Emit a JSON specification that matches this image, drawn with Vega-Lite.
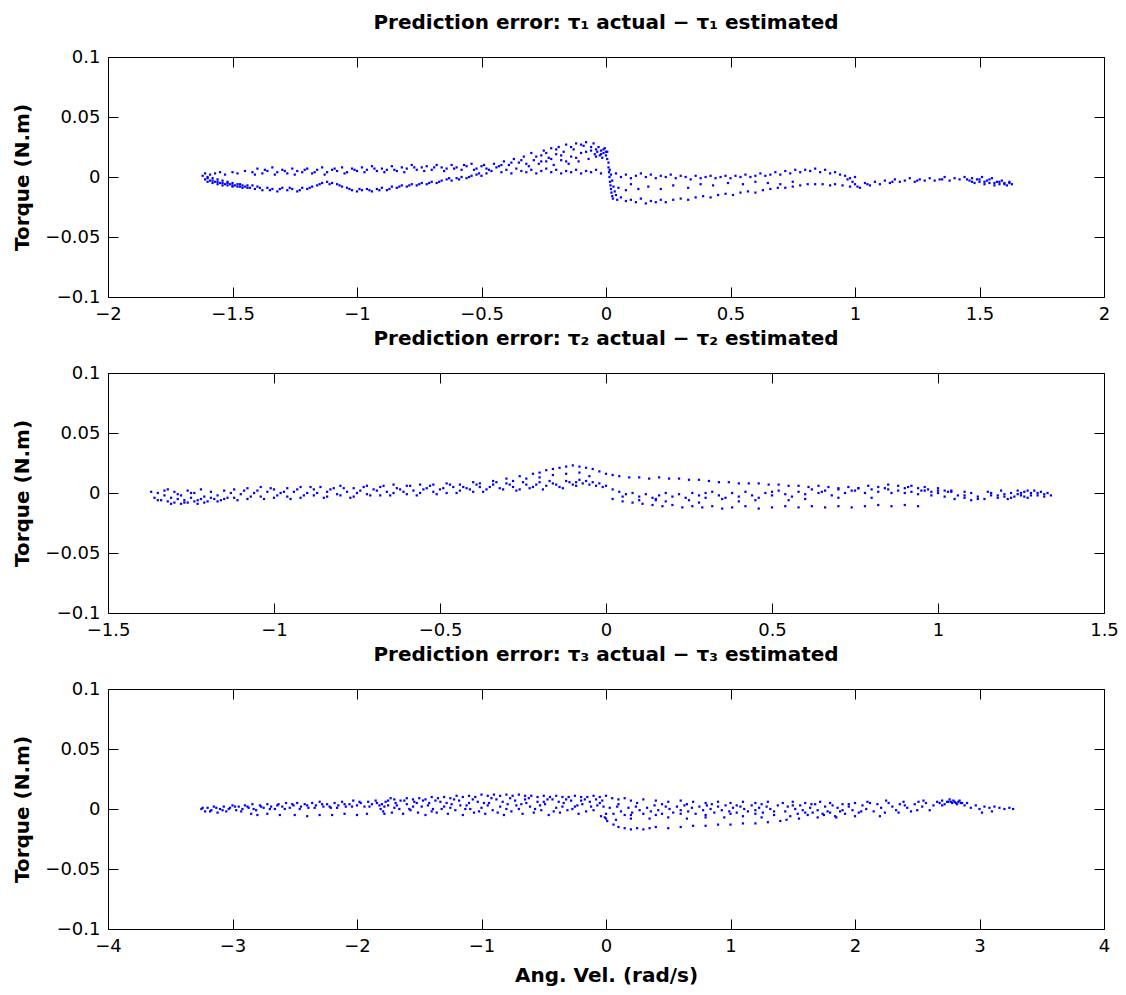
{
"$schema": "https://vega.github.io/schema/vega-lite/v6.json",
"background": "white",
"padding": {"left": 12, "top": 12, "right": 1, "bottom": 0},
"spacing": 4,
"datasets": {
"j1": [
{"v":-1.62,"e":0.001},{"v":-1.61,"e":-0.002},{"v":-1.61,"e":0.003},{"v":-1.6,"e":-0.004},{"v":-1.6,"e":0.0},{"v":-1.59,"e":-0.003},{"v":-1.59,"e":0.002},{"v":-1.58,"e":-0.005},{"v":-1.58,"e":-0.001},{"v":-1.57,"e":-0.004},{"v":-1.57,"e":0.003},{"v":-1.56,"e":-0.006},{"v":-1.56,"e":-0.002},{"v":-1.55,"e":-0.005},{"v":-1.55,"e":0.004},{"v":-1.54,"e":-0.003},{"v":-1.54,"e":-0.007},{"v":-1.53,"e":-0.006},{"v":-1.53,"e":0.002},{"v":-1.52,"e":-0.004},{"v":-1.52,"e":-0.007},{"v":-1.51,"e":-0.006},{"v":-1.5,"e":-0.008},{"v":-1.5,"e":0.004},{"v":-1.5,"e":-0.005},{"v":-1.49,"e":-0.007},{"v":-1.48,"e":-0.008},{"v":-1.48,"e":0.003},{"v":-1.47,"e":-0.006},{"v":-1.46,"e":-0.009},{"v":-1.45,"e":-0.008},{"v":-1.45,"e":0.005},{"v":-1.44,"e":-0.007},
{"v":-1.6,"e":-0.001},{"v":-1.58,"e":-0.003},{"v":-1.56,"e":-0.004},{"v":-1.54,"e":-0.005},{"v":-1.52,"e":-0.005},{"v":-1.5,"e":-0.007},{"v":-1.48,"e":-0.006},{"v":-1.47,"e":-0.008},{"v":-1.46,"e":-0.007},{"v":-1.44,"e":-0.009},
{"v":-1.42,"e":0.004},{"v":-1.4,"e":0.007},{"v":-1.38,"e":0.003},{"v":-1.36,"e":0.005},{"v":-1.34,"e":0.008},{"v":-1.32,"e":0.004},{"v":-1.3,"e":0.006},{"v":-1.28,"e":0.003},{"v":-1.26,"e":0.007},{"v":-1.24,"e":0.005},{"v":-1.22,"e":0.004},{"v":-1.2,"e":0.007},{"v":-1.18,"e":0.003},{"v":-1.16,"e":0.006},{"v":-1.14,"e":0.008},{"v":-1.12,"e":0.004},{"v":-1.1,"e":0.006},{"v":-1.08,"e":0.005},{"v":-1.06,"e":0.008},{"v":-1.04,"e":0.004},{"v":-1.02,"e":0.007},{"v":-1.0,"e":0.005},{"v":-0.98,"e":0.008},{"v":-0.96,"e":0.006},{"v":-0.94,"e":0.009},{"v":-0.92,"e":0.005},{"v":-0.9,"e":0.007},{"v":-0.88,"e":0.006},{"v":-0.86,"e":0.009},{"v":-0.84,"e":0.005},{"v":-0.82,"e":0.008},{"v":-0.8,"e":0.007},{"v":-0.78,"e":0.01},{"v":-0.76,"e":0.006},{"v":-0.74,"e":0.008},{"v":-0.72,"e":0.009},{"v":-0.7,"e":0.006},{"v":-0.68,"e":0.01},{"v":-0.66,"e":0.008},{"v":-0.64,"e":0.007},{"v":-0.62,"e":0.01},{"v":-0.6,"e":0.008},{"v":-0.58,"e":0.006},{"v":-0.56,"e":0.009},{"v":-0.54,"e":0.011},{"v":-0.52,"e":0.007},{"v":-0.5,"e":0.009},
{"v":-1.41,"e":0.002},{"v":-1.37,"e":0.006},{"v":-1.33,"e":0.002},{"v":-1.29,"e":0.005},{"v":-1.25,"e":0.002},{"v":-1.21,"e":0.006},{"v":-1.17,"e":0.004},{"v":-1.13,"e":0.002},{"v":-1.09,"e":0.007},{"v":-1.05,"e":0.003},{"v":-1.01,"e":0.006},{"v":-0.97,"e":0.004},{"v":-0.93,"e":0.007},{"v":-0.89,"e":0.004},{"v":-0.85,"e":0.006},{"v":-0.81,"e":0.004},{"v":-0.77,"e":0.008},{"v":-0.73,"e":0.005},{"v":-0.69,"e":0.008},{"v":-0.65,"e":0.005},{"v":-0.61,"e":0.007},{"v":-0.57,"e":0.01},{"v":-0.53,"e":0.006},{"v":-0.49,"e":0.01},{"v":-0.47,"e":0.006},
{"v":-1.43,"e":-0.009},{"v":-1.41,"e":-0.01},{"v":-1.4,"e":-0.008},{"v":-1.38,"e":-0.011},{"v":-1.36,"e":-0.009},{"v":-1.34,"e":-0.01},{"v":-1.32,"e":-0.012},{"v":-1.3,"e":-0.009},{"v":-1.28,"e":-0.011},{"v":-1.26,"e":-0.01},{"v":-1.24,"e":-0.012},{"v":-1.22,"e":-0.009},{"v":-1.2,"e":-0.01},{"v":-1.18,"e":-0.008},{"v":-1.16,"e":-0.007},{"v":-1.14,"e":-0.005},{"v":-1.12,"e":-0.004},{"v":-1.1,"e":-0.005},{"v":-1.08,"e":-0.006},{"v":-1.06,"e":-0.008},{"v":-1.04,"e":-0.009},{"v":-1.02,"e":-0.011},{"v":-1.0,"e":-0.012},{"v":-0.98,"e":-0.011},{"v":-0.96,"e":-0.01},{"v":-0.94,"e":-0.012},{"v":-0.92,"e":-0.01},{"v":-0.9,"e":-0.009},{"v":-0.88,"e":-0.011},{"v":-0.86,"e":-0.008},{"v":-0.84,"e":-0.009},{"v":-0.82,"e":-0.007},{"v":-0.8,"e":-0.008},{"v":-0.78,"e":-0.006},{"v":-0.76,"e":-0.007},{"v":-0.74,"e":-0.005},{"v":-0.72,"e":-0.006},{"v":-0.7,"e":-0.004},{"v":-0.68,"e":-0.005},{"v":-0.66,"e":-0.003},{"v":-0.64,"e":-0.002},{"v":-0.62,"e":-0.003},{"v":-0.6,"e":-0.001},{"v":-0.58,"e":0.0},{"v":-0.56,"e":-0.001},{"v":-0.54,"e":0.001},{"v":-0.52,"e":0.002},{"v":-0.5,"e":0.001},{"v":-0.48,"e":0.003},
{"v":-1.42,"e":-0.007},{"v":-1.39,"e":-0.009},{"v":-1.35,"e":-0.011},{"v":-1.31,"e":-0.01},{"v":-1.27,"e":-0.009},{"v":-1.23,"e":-0.011},{"v":-1.19,"e":-0.009},{"v":-1.15,"e":-0.006},{"v":-1.11,"e":-0.006},{"v":-1.07,"e":-0.007},{"v":-1.03,"e":-0.01},{"v":-0.99,"e":-0.01},{"v":-0.95,"e":-0.011},{"v":-0.91,"e":-0.011},{"v":-0.87,"e":-0.01},{"v":-0.83,"e":-0.008},{"v":-0.79,"e":-0.007},{"v":-0.75,"e":-0.006},{"v":-0.71,"e":-0.005},{"v":-0.67,"e":-0.004},{"v":-0.63,"e":-0.001},{"v":-0.59,"e":-0.002},{"v":-0.55,"e":0.0},{"v":-0.51,"e":0.003},
{"v":-0.48,"e":0.007},{"v":-0.46,"e":0.005},{"v":-0.44,"e":0.008},{"v":-0.42,"e":0.004},{"v":-0.4,"e":0.006},{"v":-0.38,"e":0.003},{"v":-0.36,"e":0.007},{"v":-0.34,"e":0.005},{"v":-0.32,"e":0.004},{"v":-0.3,"e":0.006},{"v":-0.28,"e":0.003},{"v":-0.26,"e":0.005},{"v":-0.24,"e":0.007},{"v":-0.22,"e":0.004},{"v":-0.2,"e":0.006},{"v":-0.18,"e":0.003},{"v":-0.16,"e":0.005},{"v":-0.14,"e":0.004},{"v":-0.12,"e":0.006},{"v":-0.1,"e":0.003},{"v":-0.08,"e":0.005},{"v":-0.06,"e":0.004},{"v":-0.04,"e":0.006},{"v":-0.02,"e":0.003},
{"v":-0.45,"e":0.011},{"v":-0.43,"e":0.009},{"v":-0.41,"e":0.013},{"v":-0.39,"e":0.01},{"v":-0.37,"e":0.015},{"v":-0.35,"e":0.012},{"v":-0.33,"e":0.017},{"v":-0.31,"e":0.009},{"v":-0.3,"e":0.02},{"v":-0.29,"e":0.014},{"v":-0.27,"e":0.011},{"v":-0.26,"e":0.018},{"v":-0.25,"e":0.022},{"v":-0.24,"e":0.013},{"v":-0.23,"e":0.016},{"v":-0.22,"e":0.024},{"v":-0.21,"e":0.01},{"v":-0.2,"e":0.019},{"v":-0.19,"e":0.025},{"v":-0.18,"e":0.014},{"v":-0.17,"e":0.021},{"v":-0.16,"e":0.027},{"v":-0.15,"e":0.011},{"v":-0.14,"e":0.017},{"v":-0.13,"e":0.023},{"v":-0.12,"e":0.028},{"v":-0.11,"e":0.013},{"v":-0.1,"e":0.02},{"v":-0.09,"e":0.026},{"v":-0.08,"e":0.029},{"v":-0.07,"e":0.015},{"v":-0.06,"e":0.022},{"v":-0.05,"e":0.028},{"v":-0.045,"e":0.019},{"v":-0.04,"e":0.017},{"v":-0.035,"e":0.021},{"v":-0.03,"e":0.025},{"v":-0.025,"e":0.018},{"v":-0.02,"e":0.022},{"v":-0.015,"e":0.016},{"v":-0.01,"e":0.02},{"v":-0.005,"e":0.024},{"v":0.0,"e":0.018},{"v":0.005,"e":0.021},{"v":0.005,"e":0.015},{"v":0.01,"e":0.012},
{"v":-0.42,"e":0.01},{"v":-0.38,"e":0.012},{"v":-0.34,"e":0.014},{"v":-0.32,"e":0.011},{"v":-0.28,"e":0.017},{"v":-0.26,"e":0.013},{"v":-0.24,"e":0.02},{"v":-0.22,"e":0.015},{"v":-0.2,"e":0.023},{"v":-0.18,"e":0.018},{"v":-0.16,"e":0.013},{"v":-0.14,"e":0.025},{"v":-0.12,"e":0.016},{"v":-0.1,"e":0.027},{"v":-0.08,"e":0.021},{"v":-0.06,"e":0.025},{"v":-0.04,"e":0.023},{"v":-0.02,"e":0.019},{"v":-0.01,"e":0.023},{"v":0.0,"e":0.021},
{"v":0.01,"e":0.008},{"v":0.012,"e":0.004},{"v":0.014,"e":0.0},{"v":0.016,"e":-0.004},{"v":0.018,"e":-0.007},{"v":0.02,"e":-0.01},{"v":0.022,"e":-0.013},{"v":0.025,"e":-0.016},{"v":0.028,"e":-0.018},{"v":0.015,"e":0.006},{"v":0.02,"e":0.002},{"v":0.025,"e":-0.003},{"v":0.03,"e":-0.008},{"v":0.035,"e":-0.012},{"v":0.04,"e":-0.015},{"v":0.045,"e":-0.019},
{"v":0.06,"e":-0.017},{"v":0.08,"e":-0.02},{"v":0.1,"e":-0.019},{"v":0.12,"e":-0.021},{"v":0.14,"e":-0.018},{"v":0.16,"e":-0.022},{"v":0.18,"e":-0.02},{"v":0.2,"e":-0.021},{"v":0.22,"e":-0.019},{"v":0.24,"e":-0.021},{"v":0.27,"e":-0.019},{"v":0.3,"e":-0.018},{"v":0.33,"e":-0.019},{"v":0.36,"e":-0.017},{"v":0.39,"e":-0.016},{"v":0.42,"e":-0.017},{"v":0.45,"e":-0.015},{"v":0.48,"e":-0.014},{"v":0.51,"e":-0.015},{"v":0.54,"e":-0.013},{"v":0.57,"e":-0.012},{"v":0.6,"e":-0.013},{"v":0.63,"e":-0.011},{"v":0.66,"e":-0.01},{"v":0.69,"e":-0.009},{"v":0.72,"e":-0.009},{"v":0.75,"e":-0.008},{"v":0.78,"e":-0.007},{"v":0.81,"e":-0.006},{"v":0.84,"e":-0.006},{"v":0.87,"e":-0.006},{"v":0.9,"e":-0.007},
{"v":0.05,"e":-0.009},{"v":0.08,"e":-0.011},{"v":0.1,"e":-0.006},{"v":0.13,"e":-0.01},{"v":0.17,"e":-0.008},{"v":0.22,"e":-0.01},{"v":0.27,"e":-0.007},{"v":0.33,"e":-0.009},{"v":0.38,"e":-0.006},{"v":0.43,"e":-0.007},{"v":0.49,"e":-0.005},{"v":0.55,"e":-0.006},{"v":0.6,"e":-0.004},{"v":0.65,"e":-0.005},{"v":0.7,"e":-0.006},{"v":0.75,"e":-0.004},
{"v":0.04,"e":0.003},{"v":0.06,"e":0.0},{"v":0.08,"e":0.002},{"v":0.1,"e":-0.001},{"v":0.12,"e":0.001},{"v":0.14,"e":0.003},{"v":0.16,"e":0.0},{"v":0.18,"e":0.002},{"v":0.2,"e":-0.001},{"v":0.22,"e":0.001},{"v":0.24,"e":0.0},{"v":0.26,"e":0.002},{"v":0.28,"e":-0.001},{"v":0.3,"e":0.001},{"v":0.32,"e":0.0},{"v":0.34,"e":-0.002},{"v":0.36,"e":0.001},{"v":0.38,"e":-0.001},{"v":0.4,"e":0.0},{"v":0.42,"e":0.001},{"v":0.44,"e":-0.001},{"v":0.46,"e":0.0},{"v":0.48,"e":0.001},{"v":0.5,"e":-0.001},{"v":0.52,"e":0.001},{"v":0.54,"e":0.0},{"v":0.56,"e":0.002},{"v":0.58,"e":0.0},{"v":0.6,"e":0.001},{"v":0.62,"e":0.003},{"v":0.64,"e":0.001},{"v":0.66,"e":0.002},{"v":0.68,"e":0.004},{"v":0.7,"e":0.002},{"v":0.72,"e":0.005},{"v":0.74,"e":0.003},{"v":0.76,"e":0.006},{"v":0.78,"e":0.004},{"v":0.8,"e":0.006},{"v":0.82,"e":0.005},{"v":0.84,"e":0.007},{"v":0.86,"e":0.004},{"v":0.88,"e":0.006},{"v":0.9,"e":0.003},{"v":0.92,"e":0.004},{"v":0.94,"e":0.002},{"v":0.96,"e":0.001},{"v":0.98,"e":-0.001},{"v":1.0,"e":0.0},
{"v":0.92,"e":-0.006},{"v":0.95,"e":-0.007},{"v":0.98,"e":-0.008},{"v":1.0,"e":-0.006},{"v":1.02,"e":-0.009},{"v":1.04,"e":-0.005},{"v":1.06,"e":-0.007},{"v":1.08,"e":-0.004},{"v":1.1,"e":-0.006},{"v":1.12,"e":-0.003},{"v":1.14,"e":-0.005},{"v":1.16,"e":-0.002},{"v":1.18,"e":-0.004},{"v":1.2,"e":-0.003},{"v":1.22,"e":-0.001},{"v":1.24,"e":-0.004},{"v":1.26,"e":-0.002},{"v":1.28,"e":-0.003},{"v":1.3,"e":-0.001},{"v":1.32,"e":-0.003},{"v":1.34,"e":-0.002},{"v":1.36,"e":0.0},{"v":1.38,"e":-0.003},{"v":1.4,"e":-0.001},{"v":1.42,"e":-0.002},{"v":1.44,"e":0.0},{"v":1.46,"e":-0.003},{"v":1.47,"e":-0.001},{"v":1.48,"e":-0.005},{"v":1.49,"e":-0.002},{"v":1.5,"e":-0.004},{"v":1.51,"e":0.0},{"v":1.52,"e":-0.006},{"v":1.53,"e":-0.003},{"v":1.54,"e":-0.005},{"v":1.55,"e":-0.001},{"v":1.56,"e":-0.007},{"v":1.57,"e":-0.004},{"v":1.58,"e":-0.006},{"v":1.59,"e":-0.003},{"v":1.6,"e":-0.005},{"v":1.61,"e":-0.007},{"v":1.62,"e":-0.004},{"v":1.63,"e":-0.006},
{"v":1.45,"e":-0.002},{"v":1.47,"e":-0.004},{"v":1.5,"e":-0.002},{"v":1.52,"e":-0.004},{"v":1.54,"e":-0.002},{"v":1.56,"e":-0.005},{"v":1.58,"e":-0.004},{"v":1.6,"e":-0.006},{"v":1.62,"e":-0.005},{"v":1.35,"e":-0.002},{"v":1.25,"e":-0.003},{"v":1.15,"e":-0.004},{"v":1.05,"e":-0.006},{"v":1.01,"e":-0.008},{"v":0.99,"e":-0.004},{"v":0.97,"e":-0.002}
],
"j2": [
{"v":-1.37,"e":0.001},{"v":-1.36,"e":-0.004},{"v":-1.35,"e":0.0},{"v":-1.34,"e":-0.006},{"v":-1.33,"e":-0.002},{"v":-1.32,"e":0.003},{"v":-1.32,"e":-0.007},{"v":-1.31,"e":-0.004},{"v":-1.3,"e":-0.008},{"v":-1.3,"e":0.001},{"v":-1.29,"e":-0.005},{"v":-1.28,"e":-0.009},{"v":-1.28,"e":-0.002},{"v":-1.27,"e":-0.006},{"v":-1.26,"e":0.002},{"v":-1.26,"e":-0.008},{"v":-1.25,"e":-0.004},{"v":-1.24,"e":-0.007},{"v":-1.24,"e":0.0},{"v":-1.23,"e":-0.009},{"v":-1.22,"e":-0.005},{"v":-1.22,"e":0.003},{"v":-1.21,"e":-0.003},{"v":-1.2,"e":-0.007},{"v":-1.19,"e":0.001},{"v":-1.18,"e":-0.005},{"v":-1.17,"e":-0.002},{"v":-1.16,"e":-0.006},{"v":-1.15,"e":0.002},{"v":-1.14,"e":-0.004},
{"v":-1.35,"e":-0.006},{"v":-1.33,"e":0.002},{"v":-1.31,"e":-0.009},{"v":-1.29,"e":-0.001},{"v":-1.27,"e":-0.008},{"v":-1.25,"e":0.0},{"v":-1.23,"e":-0.006},{"v":-1.21,"e":-0.008},{"v":-1.19,"e":-0.004},{"v":-1.17,"e":-0.007},{"v":-1.15,"e":-0.005},{"v":-1.13,"e":0.0},{"v":-1.11,"e":-0.006},{"v":-1.09,"e":0.002},{"v":-1.07,"e":-0.003},{"v":-1.05,"e":0.002},{"v":-1.03,"e":-0.005},{"v":-1.01,"e":0.004},{"v":-0.99,"e":-0.002},{"v":-0.97,"e":0.001},{"v":-0.95,"e":-0.005},{"v":-0.93,"e":0.003},{"v":-0.91,"e":-0.002},{"v":-0.89,"e":0.005},{"v":-0.87,"e":0.0},{"v":-0.85,"e":-0.004},{"v":-0.83,"e":0.003},{"v":-0.81,"e":-0.001},{"v":-0.79,"e":0.004},{"v":-0.77,"e":-0.004},{"v":-0.75,"e":0.0},{"v":-0.73,"e":0.005},{"v":-0.71,"e":-0.002},{"v":-0.69,"e":0.002},{"v":-0.67,"e":0.006},{"v":-0.65,"e":-0.002},{"v":-0.63,"e":0.004},{"v":-0.61,"e":0.001},{"v":-0.59,"e":0.006},{"v":-0.57,"e":-0.002},{"v":-0.55,"e":0.003},{"v":-0.53,"e":0.006},{"v":-0.51,"e":-0.001},{"v":-0.49,"e":0.004},{"v":-0.47,"e":0.007},{"v":-0.45,"e":0.0},{"v":-0.43,"e":0.005},{"v":-0.41,"e":0.003},{"v":-0.39,"e":0.007},{"v":-0.37,"e":0.001},{"v":-0.35,"e":0.005},{"v":-0.33,"e":0.009},{"v":-0.31,"e":0.003},{"v":-0.29,"e":0.007},{"v":-0.27,"e":0.002},{"v":-0.25,"e":0.009},{"v":-0.23,"e":0.004},{"v":-0.21,"e":0.007},{"v":-0.19,"e":0.003},{"v":-0.17,"e":0.01},{"v":-0.15,"e":0.007},{"v":-0.13,"e":0.004},{"v":-0.11,"e":0.009},{"v":-0.09,"e":0.006},
{"v":-1.12,"e":0.003},{"v":-1.12,"e":-0.004},{"v":-1.1,"e":-0.001},{"v":-1.08,"e":0.004},{"v":-1.08,"e":-0.005},{"v":-1.06,"e":0.0},{"v":-1.04,"e":-0.003},{"v":-1.04,"e":0.005},{"v":-1.02,"e":0.001},{"v":-1.0,"e":-0.004},{"v":-1.0,"e":0.003},{"v":-0.98,"e":0.0},{"v":-0.96,"e":0.004},{"v":-0.96,"e":-0.003},{"v":-0.94,"e":0.001},{"v":-0.92,"e":-0.004},{"v":-0.92,"e":0.005},{"v":-0.9,"e":0.0},{"v":-0.88,"e":0.003},{"v":-0.88,"e":-0.002},{"v":-0.86,"e":0.005},{"v":-0.84,"e":-0.003},{"v":-0.84,"e":0.001},{"v":-0.82,"e":0.004},{"v":-0.8,"e":-0.002},{"v":-0.8,"e":0.006},{"v":-0.78,"e":0.001},{"v":-0.76,"e":-0.003},{"v":-0.76,"e":0.004},{"v":-0.74,"e":0.002},{"v":-0.72,"e":0.006},{"v":-0.72,"e":-0.001},{"v":-0.7,"e":0.003},{"v":-0.68,"e":-0.002},{"v":-0.68,"e":0.005},{"v":-0.66,"e":0.001},{"v":-0.64,"e":0.007},{"v":-0.64,"e":0.0},{"v":-0.62,"e":0.003},{"v":-0.6,"e":-0.001},{"v":-0.6,"e":0.006},{"v":-0.58,"e":0.002},{"v":-0.56,"e":0.007},{"v":-0.56,"e":0.0},{"v":-0.54,"e":0.004},{"v":-0.52,"e":0.001},{"v":-0.52,"e":0.007},{"v":-0.5,"e":0.003},{"v":-0.48,"e":0.008},{"v":-0.48,"e":0.0},{"v":-0.46,"e":0.005},{"v":-0.44,"e":0.002},{"v":-0.44,"e":0.007},{"v":-0.42,"e":0.004},{"v":-0.4,"e":0.009},{"v":-0.4,"e":0.001},
{"v":-0.38,"e":0.005},{"v":-0.36,"e":0.003},{"v":-0.34,"e":0.007},{"v":-0.32,"e":0.004},{"v":-0.3,"e":0.008},{"v":-0.28,"e":0.005},{"v":-0.26,"e":0.003},{"v":-0.24,"e":0.007},{"v":-0.22,"e":0.005},{"v":-0.2,"e":0.009},{"v":-0.18,"e":0.006},{"v":-0.16,"e":0.008},{"v":-0.14,"e":0.005},{"v":-0.12,"e":0.01},{"v":-0.1,"e":0.007},{"v":-0.09,"e":0.009},{"v":-0.08,"e":0.011},{"v":-0.07,"e":0.008},{"v":-0.06,"e":0.01},{"v":-0.05,"e":0.007},{"v":-0.04,"e":0.009},{"v":-0.03,"e":0.006},{"v":-0.02,"e":0.008},{"v":-0.01,"e":0.005},{"v":0.0,"e":0.006},
{"v":-0.38,"e":0.008},{"v":-0.34,"e":0.01},{"v":-0.3,"e":0.012},{"v":-0.26,"e":0.014},{"v":-0.22,"e":0.016},{"v":-0.2,"e":0.017},{"v":-0.18,"e":0.019},{"v":-0.16,"e":0.02},{"v":-0.14,"e":0.021},{"v":-0.12,"e":0.022},{"v":-0.1,"e":0.023},{"v":-0.08,"e":0.022},{"v":-0.06,"e":0.021},{"v":-0.04,"e":0.02},{"v":-0.02,"e":0.018},{"v":0.0,"e":0.016},{"v":0.02,"e":0.015},{"v":0.04,"e":0.014},{"v":0.07,"e":0.013},{"v":0.1,"e":0.013},{"v":0.13,"e":0.012},{"v":0.16,"e":0.013},{"v":0.19,"e":0.012},{"v":0.22,"e":0.012},{"v":0.25,"e":0.011},{"v":0.28,"e":0.011},{"v":0.31,"e":0.01},{"v":0.34,"e":0.009},{"v":0.37,"e":0.009},{"v":0.4,"e":0.008},{"v":0.43,"e":0.008},{"v":0.46,"e":0.008},{"v":0.49,"e":0.007},{"v":0.52,"e":0.007},{"v":0.55,"e":0.006},{"v":0.58,"e":0.006},{"v":0.61,"e":0.005},{"v":0.64,"e":0.006},{"v":0.67,"e":0.005},{"v":0.7,"e":0.004},{"v":0.73,"e":0.005},{"v":0.76,"e":0.004},{"v":0.79,"e":0.006},{"v":0.82,"e":0.005},{"v":0.85,"e":0.007},{"v":0.88,"e":0.006},{"v":0.91,"e":0.005},{"v":0.94,"e":0.004},{"v":0.97,"e":0.003},{"v":1.0,"e":0.002},{"v":1.03,"e":0.001},
{"v":-0.28,"e":0.01},{"v":-0.24,"e":0.012},{"v":-0.2,"e":0.013},{"v":-0.16,"e":0.015},{"v":-0.12,"e":0.016},{"v":-0.08,"e":0.017},{"v":-0.05,"e":0.014},
{"v":0.02,"e":0.003},{"v":0.04,"e":0.001},{"v":0.06,"e":-0.001},{"v":0.08,"e":0.0},{"v":0.1,"e":-0.003},{"v":0.12,"e":-0.001},{"v":0.14,"e":-0.004},{"v":0.16,"e":-0.002},{"v":0.18,"e":0.0},{"v":0.2,"e":-0.003},{"v":0.22,"e":-0.001},{"v":0.24,"e":-0.004},{"v":0.26,"e":0.0},{"v":0.28,"e":-0.002},{"v":0.3,"e":-0.004},{"v":0.32,"e":0.001},{"v":0.34,"e":-0.002},{"v":0.36,"e":-0.004},{"v":0.38,"e":0.0},{"v":0.4,"e":-0.003},{"v":0.42,"e":0.001},{"v":0.44,"e":-0.002},{"v":0.46,"e":-0.004},{"v":0.48,"e":0.0},{"v":0.5,"e":-0.002},{"v":0.52,"e":0.002},{"v":0.54,"e":-0.001},{"v":0.56,"e":-0.003},{"v":0.58,"e":0.001},{"v":0.6,"e":-0.001},{"v":0.62,"e":0.003},{"v":0.64,"e":0.0},{"v":0.66,"e":0.002},{"v":0.68,"e":-0.002},{"v":0.7,"e":0.003},{"v":0.72,"e":0.0},{"v":0.74,"e":0.002},{"v":0.76,"e":0.004},{"v":0.78,"e":0.0},{"v":0.8,"e":0.003},{"v":0.82,"e":0.001},{"v":0.84,"e":0.004},{"v":0.86,"e":0.0},{"v":0.88,"e":0.002},{"v":0.9,"e":0.0},
{"v":0.05,"e":-0.003},{"v":0.15,"e":-0.005},{"v":0.25,"e":-0.006},{"v":0.35,"e":-0.005},{"v":0.45,"e":-0.006},{"v":0.6,"e":-0.005},{"v":0.7,"e":-0.004},{"v":0.8,"e":-0.004},{"v":0.3,"e":0.0},{"v":0.5,"e":0.001},{"v":0.65,"e":0.001},{"v":0.75,"e":0.002},{"v":0.85,"e":0.003},{"v":0.95,"e":0.002},{"v":0.15,"e":-0.006},
{"v":0.02,"e":-0.005},{"v":0.05,"e":-0.007},{"v":0.08,"e":-0.008},{"v":0.11,"e":-0.009},{"v":0.14,"e":-0.01},{"v":0.17,"e":-0.011},{"v":0.2,"e":-0.01},{"v":0.23,"e":-0.012},{"v":0.26,"e":-0.011},{"v":0.29,"e":-0.012},{"v":0.32,"e":-0.011},{"v":0.35,"e":-0.013},{"v":0.38,"e":-0.012},{"v":0.42,"e":-0.011},{"v":0.46,"e":-0.013},{"v":0.5,"e":-0.012},{"v":0.54,"e":-0.011},{"v":0.58,"e":-0.012},{"v":0.62,"e":-0.011},{"v":0.66,"e":-0.012},{"v":0.7,"e":-0.011},{"v":0.74,"e":-0.012},{"v":0.78,"e":-0.011},{"v":0.82,"e":-0.01},{"v":0.86,"e":-0.011},{"v":0.9,"e":-0.01},{"v":0.94,"e":-0.011},
{"v":0.1,"e":-0.006},{"v":0.18,"e":-0.007},{"v":0.28,"e":-0.008},{"v":0.4,"e":-0.007},{"v":0.55,"e":-0.006},
{"v":0.9,"e":0.004},{"v":0.92,"e":0.001},{"v":0.94,"e":-0.001},{"v":0.96,"e":0.002},{"v":0.98,"e":-0.002},{"v":1.0,"e":0.0},{"v":1.02,"e":-0.003},{"v":1.04,"e":0.001},{"v":1.05,"e":-0.005},{"v":1.06,"e":-0.002},{"v":1.08,"e":-0.004},{"v":1.1,"e":0.0},{"v":1.1,"e":-0.006},{"v":1.12,"e":-0.003},{"v":1.14,"e":-0.005},{"v":1.15,"e":0.001},{"v":1.16,"e":-0.002},{"v":1.18,"e":-0.004},{"v":1.19,"e":0.002},{"v":1.2,"e":-0.001},{"v":1.21,"e":-0.005},{"v":1.22,"e":0.0},{"v":1.23,"e":-0.003},{"v":1.24,"e":0.002},{"v":1.25,"e":-0.002},{"v":1.26,"e":0.001},{"v":1.27,"e":-0.004},{"v":1.28,"e":0.0},{"v":1.29,"e":0.002},{"v":1.3,"e":-0.002},{"v":1.31,"e":0.001},{"v":1.32,"e":-0.001},{"v":1.33,"e":0.0},{"v":1.34,"e":-0.002},
{"v":1.2,"e":-0.003},{"v":1.22,"e":-0.004},{"v":1.24,"e":-0.001},{"v":1.26,"e":-0.003},{"v":1.28,"e":-0.002},{"v":1.3,"e":0.0},{"v":1.32,"e":-0.003},{"v":1.25,"e":0.0},{"v":1.27,"e":0.002},{"v":1.18,"e":-0.002},{"v":1.16,"e":0.0},{"v":1.12,"e":-0.005},{"v":1.08,"e":-0.002},{"v":0.98,"e":0.001},{"v":1.02,"e":0.002},
{"v":0.92,"e":0.006},{"v":0.96,"e":0.005},{"v":1.0,"e":0.004},{"v":1.04,"e":0.002},{"v":1.08,"e":0.001}
],
"j3": [
{"v":-3.25,"e":0.0},{"v":-3.22,"e":-0.002},{"v":-3.2,"e":0.001},{"v":-3.17,"e":-0.001},{"v":-3.15,"e":0.002},{"v":-3.12,"e":-0.003},{"v":-3.1,"e":0.0},{"v":-3.07,"e":0.002},{"v":-3.05,"e":-0.002},{"v":-3.02,"e":0.001},{"v":-3.0,"e":0.003},{"v":-2.97,"e":-0.001},{"v":-2.95,"e":0.002},{"v":-2.92,"e":0.0},{"v":-2.9,"e":0.003},
{"v":-3.24,"e":0.001},{"v":-3.18,"e":-0.002},{"v":-3.13,"e":0.001},{"v":-3.08,"e":-0.001},{"v":-3.03,"e":0.0},{"v":-2.98,"e":0.002},{"v":-2.93,"e":-0.002},{"v":-2.88,"e":0.002},{"v":-2.83,"e":0.0},{"v":-2.77,"e":0.002},{"v":-2.7,"e":0.0},{"v":-2.64,"e":0.003},{"v":-2.58,"e":0.0},{"v":-2.52,"e":0.004},{"v":-2.46,"e":0.0},{"v":-2.4,"e":0.003},{"v":-2.34,"e":0.001},{"v":-2.28,"e":0.004},{"v":-2.22,"e":0.002},{"v":-2.16,"e":0.001},{"v":-2.1,"e":0.004},{"v":-2.04,"e":0.002},{"v":-1.98,"e":0.006},{"v":-1.9,"e":0.002},{"v":-1.84,"e":0.005},
{"v":-2.87,"e":0.001},{"v":-2.84,"e":0.004},{"v":-2.81,"e":-0.001},{"v":-2.78,"e":0.003},{"v":-2.75,"e":0.001},{"v":-2.72,"e":0.004},{"v":-2.69,"e":0.002},{"v":-2.66,"e":0.0},{"v":-2.63,"e":0.004},{"v":-2.6,"e":0.002},{"v":-2.57,"e":0.005},{"v":-2.54,"e":0.001},{"v":-2.51,"e":0.003},{"v":-2.48,"e":0.005},{"v":-2.45,"e":0.002},{"v":-2.42,"e":0.004},{"v":-2.39,"e":0.001},{"v":-2.36,"e":0.005},{"v":-2.33,"e":0.003},{"v":-2.3,"e":0.006},{"v":-2.27,"e":0.002},{"v":-2.24,"e":0.004},{"v":-2.21,"e":0.001},{"v":-2.18,"e":0.005},{"v":-2.15,"e":0.003},{"v":-2.12,"e":0.006},{"v":-2.09,"e":0.002},{"v":-2.06,"e":0.004},{"v":-2.03,"e":0.007},{"v":-2.0,"e":0.003},{"v":-1.97,"e":0.005},{"v":-1.94,"e":0.002},{"v":-1.91,"e":0.006},{"v":-1.88,"e":0.004},{"v":-1.85,"e":0.007},{"v":-1.82,"e":0.003},
{"v":-2.85,"e":-0.004},{"v":-2.8,"e":-0.005},{"v":-2.72,"e":-0.004},{"v":-2.62,"e":-0.005},{"v":-2.5,"e":-0.005},{"v":-2.4,"e":-0.006},{"v":-2.3,"e":-0.005},{"v":-2.2,"e":-0.005},{"v":-2.1,"e":-0.004},{"v":-2.0,"e":-0.005},{"v":-1.92,"e":-0.004},
{"v":-1.81,"e":0.0},{"v":-1.8,"e":0.004},{"v":-1.79,"e":-0.002},{"v":-1.78,"e":0.002},{"v":-1.77,"e":0.006},{"v":-1.78,"e":-0.004},
{"v":-1.75,"e":0.007},{"v":-1.7,"e":0.008},{"v":-1.65,"e":0.007},{"v":-1.6,"e":0.009},{"v":-1.55,"e":0.008},{"v":-1.5,"e":0.009},{"v":-1.45,"e":0.008},{"v":-1.4,"e":0.01},{"v":-1.35,"e":0.009},{"v":-1.3,"e":0.01},{"v":-1.25,"e":0.009},{"v":-1.2,"e":0.011},{"v":-1.15,"e":0.01},{"v":-1.1,"e":0.011},{"v":-1.05,"e":0.01},{"v":-1.0,"e":0.012},{"v":-0.95,"e":0.011},{"v":-0.9,"e":0.012},{"v":-0.85,"e":0.011},{"v":-0.8,"e":0.012},{"v":-0.75,"e":0.011},{"v":-0.7,"e":0.012},{"v":-0.65,"e":0.011},{"v":-0.6,"e":0.011},{"v":-0.55,"e":0.01},{"v":-0.5,"e":0.011},{"v":-0.45,"e":0.01},{"v":-0.4,"e":0.011},{"v":-0.35,"e":0.01},{"v":-0.3,"e":0.01},{"v":-0.25,"e":0.011},{"v":-0.2,"e":0.01},{"v":-0.15,"e":0.01},{"v":-0.1,"e":0.011},{"v":-0.05,"e":0.01},{"v":0.0,"e":0.011},
{"v":-1.75,"e":0.003},{"v":-1.72,"e":-0.003},{"v":-1.69,"e":0.005},{"v":-1.66,"e":0.0},{"v":-1.63,"e":-0.004},{"v":-1.6,"e":0.004},{"v":-1.57,"e":-0.001},{"v":-1.54,"e":0.006},{"v":-1.51,"e":-0.003},{"v":-1.48,"e":0.002},{"v":-1.45,"e":-0.005},{"v":-1.42,"e":0.005},{"v":-1.39,"e":0.0},{"v":-1.36,"e":-0.003},{"v":-1.33,"e":0.006},{"v":-1.3,"e":0.002},{"v":-1.27,"e":-0.004},{"v":-1.24,"e":0.004},{"v":-1.21,"e":-0.001},{"v":-1.18,"e":0.007},{"v":-1.15,"e":-0.005},{"v":-1.12,"e":0.003},{"v":-1.09,"e":0.0},{"v":-1.06,"e":-0.003},{"v":-1.03,"e":0.006},{"v":-1.0,"e":0.001},{"v":-0.97,"e":-0.004},{"v":-0.94,"e":0.005},{"v":-0.91,"e":-0.001},{"v":-0.88,"e":0.008},{"v":-0.85,"e":0.002},{"v":-0.82,"e":-0.005},{"v":-0.79,"e":0.004},{"v":-0.76,"e":-0.002},{"v":-0.73,"e":0.007},{"v":-0.7,"e":0.0},{"v":-0.67,"e":-0.004},{"v":-0.64,"e":0.005},{"v":-0.61,"e":0.002},{"v":-0.58,"e":-0.003},{"v":-0.55,"e":0.006},{"v":-0.52,"e":-0.001},{"v":-0.49,"e":0.004},{"v":-0.46,"e":-0.005},{"v":-0.43,"e":0.008},{"v":-0.4,"e":0.001},{"v":-0.37,"e":-0.003},{"v":-0.34,"e":0.005},{"v":-0.31,"e":-0.001},{"v":-0.28,"e":0.007},{"v":-0.25,"e":0.002},{"v":-0.22,"e":-0.004},{"v":-0.19,"e":0.004},{"v":-0.16,"e":-0.002},{"v":-0.13,"e":0.006},{"v":-0.1,"e":-0.001},{"v":-0.07,"e":0.003},{"v":-0.04,"e":-0.006},{"v":-0.02,"e":0.002},{"v":0.0,"e":-0.004},
{"v":-1.7,"e":0.001},{"v":-1.62,"e":0.007},{"v":-1.55,"e":0.002},{"v":-1.47,"e":0.007},{"v":-1.4,"e":-0.002},{"v":-1.32,"e":0.0},{"v":-1.25,"e":0.001},{"v":-1.17,"e":0.003},{"v":-1.1,"e":0.005},{"v":-1.02,"e":-0.002},{"v":-0.95,"e":0.003},{"v":-0.87,"e":-0.003},{"v":-0.8,"e":0.0},{"v":-0.72,"e":0.003},{"v":-0.65,"e":0.008},{"v":-0.57,"e":0.0},{"v":-0.5,"e":0.006},{"v":-0.42,"e":-0.002},{"v":-0.35,"e":0.002},{"v":-0.27,"e":0.0},{"v":-0.2,"e":0.007},{"v":-0.12,"e":0.002},{"v":-0.05,"e":0.005},
{"v":-1.73,"e":0.009},{"v":-1.68,"e":0.003},{"v":-1.58,"e":0.0},{"v":-1.52,"e":0.005},{"v":-1.43,"e":0.003},{"v":-1.37,"e":0.007},{"v":-1.28,"e":0.005},{"v":-1.22,"e":0.008},{"v":-1.13,"e":0.0},{"v":-1.07,"e":0.008},{"v":-0.98,"e":0.005},{"v":-0.92,"e":0.009},{"v":-0.83,"e":0.006},{"v":-0.77,"e":0.009},{"v":-0.68,"e":0.004},{"v":-0.62,"e":0.009},{"v":-0.53,"e":0.003},{"v":-0.47,"e":0.008},{"v":-0.38,"e":0.006},{"v":-0.32,"e":0.008},{"v":-0.23,"e":0.003},{"v":-0.17,"e":0.008},{"v":-0.08,"e":0.008},{"v":-0.03,"e":0.007},
{"v":0.0,"e":-0.008},{"v":0.01,"e":-0.01},{"v":-0.01,"e":-0.007},
{"v":0.05,"e":0.009},{"v":0.1,"e":0.008},{"v":0.15,"e":0.009},{"v":0.2,"e":0.007},{"v":0.3,"e":0.008},{"v":0.4,"e":0.007},{"v":0.5,"e":0.006},{"v":0.6,"e":0.007},{"v":0.7,"e":0.006},{"v":0.8,"e":0.005},{"v":0.9,"e":0.006},{"v":1.0,"e":0.005},{"v":1.1,"e":0.006},{"v":1.2,"e":0.005},{"v":1.3,"e":0.006},
{"v":0.1,"e":0.004},{"v":0.25,"e":0.005},{"v":0.45,"e":0.004},{"v":0.65,"e":0.004},{"v":0.85,"e":0.004},{"v":1.05,"e":0.003},{"v":1.25,"e":0.004},{"v":0.2,"e":-0.005},{"v":0.4,"e":-0.005},{"v":0.6,"e":-0.004},{"v":0.8,"e":-0.005},{"v":1.0,"e":-0.004},{"v":1.2,"e":-0.004},{"v":1.35,"e":-0.005},
{"v":0.03,"e":0.001},{"v":0.06,"e":-0.004},{"v":0.09,"e":0.002},{"v":0.12,"e":-0.002},{"v":0.15,"e":-0.005},{"v":0.18,"e":0.001},{"v":0.21,"e":-0.003},{"v":0.24,"e":0.002},{"v":0.27,"e":-0.001},{"v":0.3,"e":-0.004},{"v":0.33,"e":0.001},{"v":0.36,"e":-0.002},{"v":0.39,"e":0.003},{"v":0.42,"e":-0.001},{"v":0.45,"e":-0.004},{"v":0.48,"e":0.002},{"v":0.51,"e":0.0},{"v":0.54,"e":-0.003},{"v":0.57,"e":0.002},{"v":0.6,"e":-0.001},{"v":0.63,"e":0.003},{"v":0.66,"e":-0.002},{"v":0.69,"e":0.001},{"v":0.72,"e":-0.004},{"v":0.75,"e":0.002},{"v":0.78,"e":-0.001},{"v":0.81,"e":0.003},{"v":0.84,"e":0.0},{"v":0.87,"e":-0.003},{"v":0.9,"e":0.002},{"v":0.93,"e":-0.001},{"v":0.96,"e":0.003},{"v":0.99,"e":-0.002},{"v":1.02,"e":0.001},{"v":1.05,"e":-0.003},{"v":1.08,"e":0.002},{"v":1.11,"e":0.0},{"v":1.14,"e":-0.002},{"v":1.17,"e":0.003},{"v":1.2,"e":-0.001},{"v":1.23,"e":0.001},{"v":1.26,"e":-0.003},{"v":1.29,"e":0.002},{"v":1.32,"e":0.0},{"v":1.35,"e":-0.002},{"v":1.38,"e":0.003},
{"v":0.06,"e":-0.013},{"v":0.1,"e":-0.015},{"v":0.15,"e":-0.016},{"v":0.2,"e":-0.017},{"v":0.25,"e":-0.016},{"v":0.3,"e":-0.017},{"v":0.35,"e":-0.016},{"v":0.4,"e":-0.015},{"v":0.5,"e":-0.016},{"v":0.6,"e":-0.015},{"v":0.7,"e":-0.014},{"v":0.8,"e":-0.014},{"v":0.9,"e":-0.013},{"v":1.0,"e":-0.013},{"v":1.1,"e":-0.012},{"v":1.2,"e":-0.012},{"v":1.3,"e":-0.011},{"v":1.4,"e":-0.01},
{"v":0.08,"e":-0.009},{"v":0.2,"e":-0.008},{"v":0.35,"e":-0.008},{"v":0.5,"e":-0.007},{"v":0.65,"e":-0.008},{"v":0.8,"e":-0.007},{"v":0.95,"e":-0.007},{"v":1.1,"e":-0.006},{"v":1.25,"e":-0.007},
{"v":1.42,"e":0.005},{"v":1.44,"e":-0.002},{"v":1.46,"e":0.002},{"v":1.48,"e":-0.006},{"v":1.5,"e":0.006},{"v":1.52,"e":0.0},{"v":1.54,"e":-0.004},{"v":1.56,"e":0.003},{"v":1.58,"e":-0.001},{"v":1.6,"e":0.005},{"v":1.62,"e":-0.005},{"v":1.64,"e":0.001},{"v":1.66,"e":-0.003},{"v":1.68,"e":0.004},{"v":1.7,"e":-0.001},{"v":1.72,"e":0.006},{"v":1.74,"e":-0.004},{"v":1.76,"e":0.002},{"v":1.78,"e":-0.002},{"v":1.8,"e":-0.003},{"v":1.82,"e":0.003},{"v":1.84,"e":-0.006},{"v":1.86,"e":0.001},{"v":1.88,"e":-0.002},{"v":1.9,"e":0.004},{"v":1.92,"e":-0.004},{"v":1.95,"e":0.002},{"v":1.98,"e":-0.001},{"v":2.0,"e":0.005},{"v":2.03,"e":-0.003},{"v":2.06,"e":0.003},{"v":2.09,"e":0.0},{"v":2.12,"e":0.005},{"v":2.15,"e":-0.002},{"v":2.18,"e":0.004},{"v":2.21,"e":0.001},{"v":2.24,"e":-0.003},{"v":2.27,"e":0.005},{"v":2.3,"e":0.002},{"v":2.33,"e":-0.001},{"v":2.36,"e":0.004},{"v":2.39,"e":0.006},{"v":2.42,"e":0.001},{"v":2.45,"e":-0.002},{"v":2.48,"e":0.004},{"v":2.51,"e":0.006},{"v":2.54,"e":0.002},{"v":2.57,"e":0.005},{"v":2.6,"e":-0.001},{"v":2.63,"e":0.003},{"v":2.66,"e":0.006},
{"v":1.5,"e":0.003},{"v":1.65,"e":0.004},{"v":1.8,"e":0.005},{"v":1.95,"e":0.004},{"v":2.1,"e":0.006},{"v":2.25,"e":0.007},{"v":2.4,"e":0.003},{"v":2.55,"e":0.007},{"v":2.7,"e":0.003},{"v":2.75,"e":0.006},{"v":2.77,"e":0.006},{"v":2.83,"e":0.006},{"v":2.85,"e":0.005},{"v":1.6,"e":-0.003},{"v":1.75,"e":-0.005},{"v":1.9,"e":-0.001},{"v":2.05,"e":-0.002},{"v":2.35,"e":-0.003},{"v":2.5,"e":-0.001},
{"v":1.45,"e":-0.009},{"v":1.55,"e":-0.008},{"v":1.7,"e":-0.007},{"v":1.85,"e":-0.007},{"v":2.0,"e":-0.006},{"v":2.2,"e":-0.006},
{"v":2.68,"e":0.005},{"v":2.7,"e":0.007},{"v":2.72,"e":0.004},{"v":2.74,"e":0.006},{"v":2.76,"e":0.008},{"v":2.78,"e":0.005},{"v":2.8,"e":0.006},{"v":2.82,"e":0.004},{"v":2.84,"e":0.007},{"v":2.86,"e":0.005},{"v":2.88,"e":0.003},{"v":2.9,"e":0.005},{"v":2.79,"e":0.007},{"v":2.81,"e":0.005},
{"v":2.93,"e":0.001},{"v":2.97,"e":0.003},{"v":3.0,"e":0.0},{"v":3.04,"e":0.002},{"v":3.08,"e":0.001},{"v":3.12,"e":0.002},{"v":3.16,"e":0.001},{"v":3.2,"e":0.0},{"v":3.24,"e":0.001},{"v":3.27,"e":0.0},{"v":3.02,"e":-0.003},{"v":3.1,"e":-0.002}
]
},
"vconcat": [
{
"width": 996, "height": 240,
"data": {"name": "j1"},
"title": {"text": "Prediction error: τ₁ actual − τ₁ estimated"},
"layer": [
{"mark": {"type": "square", "size": 5, "color": "#0000ff", "opacity": 1},
 "encoding": {
  "x": {"field": "v", "type": "quantitative", "scale": {"domain": [-2, 2], "nice": false, "zero": false}, "axis": {"orient": "bottom", "values": [-2,-1.5,-1,-0.5,0,0.5,1,1.5,2], "format": "~g", "title": null}},
  "y": {"field": "e", "type": "quantitative", "scale": {"domain": [-0.1, 0.1], "nice": false}, "axis": {"orient": "left", "values": [-0.1,-0.05,0,0.05,0.1], "format": "~g", "title": "Torque (N.m)"}}
 }},
{"mark": {"type": "square", "size": 0, "opacity": 0},
 "encoding": {
  "x": {"field": "v", "type": "quantitative", "axis": {"orient": "top", "values": [-2,-1.5,-1,-0.5,0,0.5,1,1.5,2], "labels": false, "title": null}},
  "y": {"field": "e", "type": "quantitative", "axis": {"orient": "right", "values": [-0.1,-0.05,0,0.05,0.1], "labels": false, "title": null}}
 }}
],
"resolve": {"axis": {"x": "independent", "y": "independent"}}
},
{
"width": 996, "height": 240,
"data": {"name": "j2"},
"title": {"text": "Prediction error: τ₂ actual − τ₂ estimated"},
"layer": [
{"mark": {"type": "square", "size": 5, "color": "#0000ff", "opacity": 1},
 "encoding": {
  "x": {"field": "v", "type": "quantitative", "scale": {"domain": [-1.5, 1.5], "nice": false, "zero": false}, "axis": {"orient": "bottom", "values": [-1.5,-1,-0.5,0,0.5,1,1.5], "format": "~g", "title": null}},
  "y": {"field": "e", "type": "quantitative", "scale": {"domain": [-0.1, 0.1], "nice": false}, "axis": {"orient": "left", "values": [-0.1,-0.05,0,0.05,0.1], "format": "~g", "title": "Torque (N.m)"}}
 }},
{"mark": {"type": "square", "size": 0, "opacity": 0},
 "encoding": {
  "x": {"field": "v", "type": "quantitative", "axis": {"orient": "top", "values": [-1.5,-1,-0.5,0,0.5,1,1.5], "labels": false, "title": null}},
  "y": {"field": "e", "type": "quantitative", "axis": {"orient": "right", "values": [-0.1,-0.05,0,0.05,0.1], "labels": false, "title": null}}
 }}
],
"resolve": {"axis": {"x": "independent", "y": "independent"}}
},
{
"width": 996, "height": 240,
"data": {"name": "j3"},
"title": {"text": "Prediction error: τ₃ actual − τ₃ estimated"},
"layer": [
{"mark": {"type": "square", "size": 5, "color": "#0000ff", "opacity": 1},
 "encoding": {
  "x": {"field": "v", "type": "quantitative", "scale": {"domain": [-4, 4], "nice": false, "zero": false}, "axis": {"orient": "bottom", "values": [-4,-3,-2,-1,0,1,2,3,4], "format": "~g", "title": "Ang. Vel. (rad/s)", "titlePadding": 10}},
  "y": {"field": "e", "type": "quantitative", "scale": {"domain": [-0.1, 0.1], "nice": false}, "axis": {"orient": "left", "values": [-0.1,-0.05,0,0.05,0.1], "format": "~g", "title": "Torque (N.m)"}}
 }},
{"mark": {"type": "square", "size": 0, "opacity": 0},
 "encoding": {
  "x": {"field": "v", "type": "quantitative", "axis": {"orient": "top", "values": [-4,-3,-2,-1,0,1,2,3,4], "labels": false, "title": null}},
  "y": {"field": "e", "type": "quantitative", "axis": {"orient": "right", "values": [-0.1,-0.05,0,0.05,0.1], "labels": false, "title": null}}
 }}
],
"resolve": {"axis": {"x": "independent", "y": "independent"}}
}
],
"config": {
 "view": {"stroke": "black", "strokeWidth": 1},
 "axis": {"grid": false, "domain": false, "ticks": true, "tickSize": -10, "tickColor": "black", "tickWidth": 1, "labelPadding": 18, "labelFlush": false, "labelOverlap": false, "labelFont": "DejaVu Sans", "labelFontSize": 18, "labelColor": "black", "titleFont": "DejaVu Sans", "titleFontSize": 20, "titleFontWeight": "bold", "titleColor": "black", "titlePadding": 12},
 "title": {"font": "DejaVu Sans", "fontSize": 20, "fontWeight": "bold", "color": "black", "offset": 15, "anchor": "middle"}
}
}
